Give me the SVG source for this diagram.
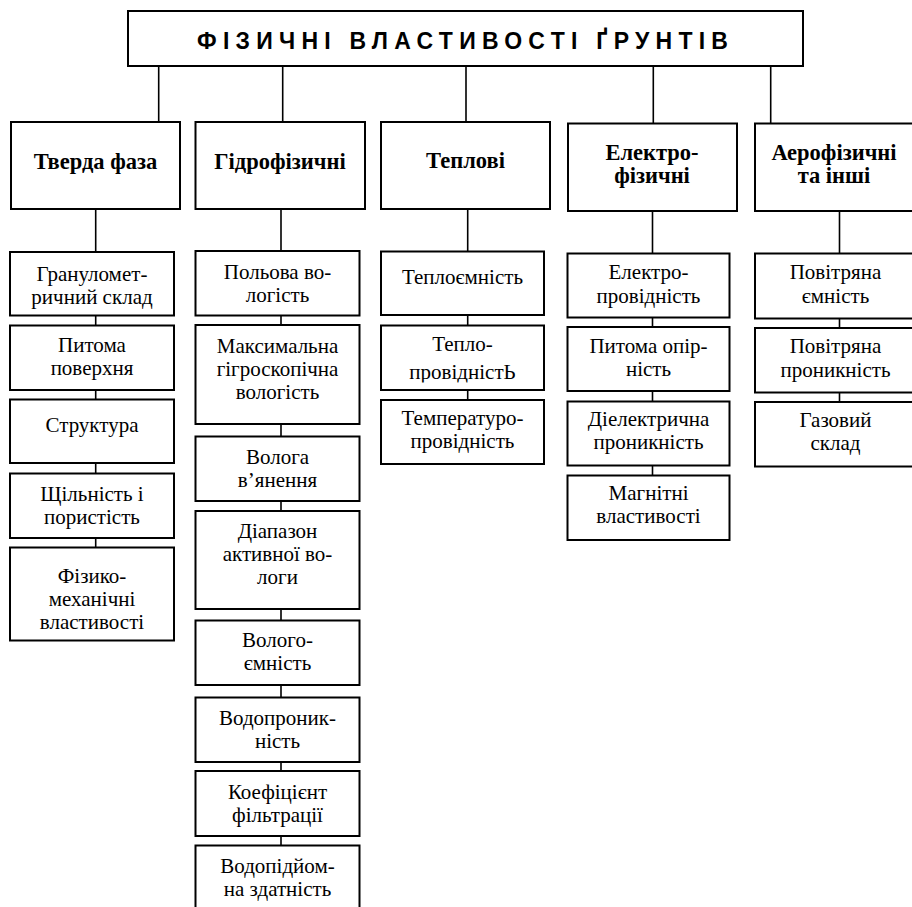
<svg xmlns="http://www.w3.org/2000/svg" width="912" height="907" viewBox="0 0 912 907">
<style>
.box{fill:#fff;stroke:#000;stroke-width:2}
.ln{stroke:#000;stroke-width:1.6;fill:none}
.t{font-family:"Liberation Serif","Times New Roman",serif;font-size:21px;text-anchor:middle;fill:#000}
.c{font-family:"Liberation Serif","Times New Roman",serif;font-size:22.5px;font-weight:bold;text-anchor:middle;fill:#000}
.h{font-family:"Liberation Sans",Arial,sans-serif;font-size:23px;font-weight:bold;fill:#000}
</style>
<defs>
<clipPath id="clipTP"><rect x="381" y="325" width="163" height="57.5"/></clipPath>
</defs>
<rect width="912" height="907" fill="#fff"/>
<g id="connectors">
<path class="ln" d="M158.7 66V122M282.7 66V122M466 66V122M653.3 66V123.5M770.7 66V123.5"/>
<path class="ln" d="M95.7 209V252M95.7 315.5V325.5M95.7 390V399.5M95.7 463V473.5M95.7 538V547.5"/>
<path class="ln" d="M281 209V251M281 315.5V325M281 424V436.5M281 501V511M281 609V620.5M281 685V697.5M281 762V771M281 836V845.5"/>
<path class="ln" d="M467.7 209V251.5M467.7 315V325.5M467.7 390V400"/>
<path class="ln" d="M652.5 211V253.5M652.5 317.5V327M652.5 391V401.5M652.5 465.5V475.5"/>
<path class="ln" d="M839.5 211V253.5M839.5 318.5V328M839.5 392.5V402"/>
</g>
<g id="title"><rect class="box" x="128" y="11" width="675" height="55"/><text class="h" x="197" y="48.5" textLength="531" lengthAdjust="spacing">ФІЗИЧНІ ВЛАСТИВОСТІ ҐРУНТІВ</text></g>
<g id="cat1"><rect class="box" x="11" y="122" width="169" height="87"/><text class="c" x="95.5" y="168.5">Тверда фаза</text></g>
<g id="cat2"><rect class="box" x="195.5" y="122" width="169.5" height="87"/><text class="c" x="280" y="168.5">Гідрофізичні</text></g>
<g id="cat3"><rect class="box" x="381" y="122" width="169" height="87"/><text class="c" x="465.5" y="168">Теплові</text></g>
<g id="cat4"><rect class="box" x="568" y="123.5" width="169" height="87.5"/><text class="c" x="652" y="159.5">Електро-</text><text class="c" x="652" y="183">фізичні</text></g>
<g id="cat5"><rect class="box" x="755" y="123.5" width="160" height="87.5"/><text class="c" x="834" y="159.5">Аерофізичні</text><text class="c" x="834" y="183">та інші</text></g>

<g id="s1a"><rect class="box" x="10" y="252" width="164" height="63.5"/><text class="t" x="92" y="280.5">Грануломет-</text><text class="t" x="92" y="304">ричний склад</text></g>
<g id="s1b"><rect class="box" x="10" y="325.5" width="164" height="64.5"/><text class="t" x="92" y="352">Питома</text><text class="t" x="92" y="375">поверхня</text></g>
<g id="s1c"><rect class="box" x="10" y="399.5" width="164" height="63.5"/><text class="t" x="92" y="431.5">Структура</text></g>
<g id="s1d"><rect class="box" x="10" y="473.5" width="164" height="64.5"/><text class="t" x="92" y="500.5">Щільність і</text><text class="t" x="92" y="523.5">пористість</text></g>
<g id="s1e"><rect class="box" x="10" y="547.5" width="164" height="93"/><text class="t" x="92" y="583">Фізико-</text><text class="t" x="92" y="606">механічні</text><text class="t" x="92" y="629">властивості</text></g>

<g id="s2a"><rect class="box" x="195.5" y="251" width="164" height="64.5"/><text class="t" x="277.5" y="278.5">Польова во-</text><text class="t" x="277.5" y="302">логість</text></g>
<g id="s2b"><rect class="box" x="195.5" y="325" width="164" height="99"/><text class="t" x="277.5" y="353">Максимальна</text><text class="t" x="277.5" y="376">гігроскопічна</text><text class="t" x="277.5" y="399">вологість</text></g>
<g id="s2c"><rect class="box" x="195.5" y="436.5" width="164" height="64.5"/><text class="t" x="277.5" y="464">Волога</text><text class="t" x="277.5" y="487">в’янення</text></g>
<g id="s2d"><rect class="box" x="195.5" y="511" width="164" height="98"/><text class="t" x="277.5" y="538">Діапазон</text><text class="t" x="277.5" y="561">активної во-</text><text class="t" x="277.5" y="584">логи</text></g>
<g id="s2e"><rect class="box" x="195.5" y="620.5" width="164" height="64.5"/><text class="t" x="277.5" y="647">Волого-</text><text class="t" x="277.5" y="670">ємність</text></g>
<g id="s2f"><rect class="box" x="195.5" y="697.5" width="164" height="64.5"/><text class="t" x="277.5" y="725">Водопроник-</text><text class="t" x="277.5" y="748">ність</text></g>
<g id="s2g"><rect class="box" x="195.5" y="771" width="164" height="65"/><text class="t" x="277.5" y="799">Коефіцієнт</text><text class="t" x="277.5" y="822">фільтрації</text></g>
<g id="s2h"><rect class="box" x="195.5" y="845.5" width="164" height="80"/><text class="t" x="277.5" y="873">Водопідйом-</text><text class="t" x="277.5" y="896">на здатність</text></g>

<g id="s3a"><rect class="box" x="381" y="251.5" width="163" height="63.5"/><text class="t" x="462.5" y="284">Теплоємність</text></g>
<g id="s3b"><rect class="box" x="381" y="325.5" width="163" height="64.5"/><text class="t" x="462.5" y="351">Тепло-</text><text class="t" x="462.5" y="379" clip-path="url(#clipTP)">провідністЬ</text></g>
<g id="s3c"><rect class="box" x="381" y="400" width="163" height="64"/><text class="t" x="462.5" y="425">Температуро-</text><text class="t" x="462.5" y="448">провідність</text></g>

<g id="s4a"><rect class="box" x="567.5" y="253.5" width="162" height="64"/><text class="t" x="648.5" y="279">Електро-</text><text class="t" x="648.5" y="303">провідність</text></g>
<g id="s4b"><rect class="box" x="567.5" y="327" width="162" height="64"/><text class="t" x="648.5" y="353">Питома опір-</text><text class="t" x="648.5" y="376">ність</text></g>
<g id="s4c"><rect class="box" x="567.5" y="401.5" width="162" height="64"/><text class="t" x="648.5" y="426">Діелектрична</text><text class="t" x="648.5" y="449">проникність</text></g>
<g id="s4d"><rect class="box" x="567.5" y="475.5" width="162" height="64.5"/><text class="t" x="648.5" y="500">Магнітні</text><text class="t" x="648.5" y="523">властивості</text></g>

<g id="s5a"><rect class="box" x="755" y="253.5" width="161" height="65"/><text class="t" x="835.5" y="279">Повітряна</text><text class="t" x="835.5" y="303">ємність</text></g>
<g id="s5b"><rect class="box" x="755" y="328" width="161" height="64.5"/><text class="t" x="835.5" y="353">Повітряна</text><text class="t" x="835.5" y="377">проникність</text></g>
<g id="s5c"><rect class="box" x="755" y="402" width="161" height="64.5"/><text class="t" x="835.5" y="427">Газовий</text><text class="t" x="835.5" y="450">склад</text></g>
</svg>
